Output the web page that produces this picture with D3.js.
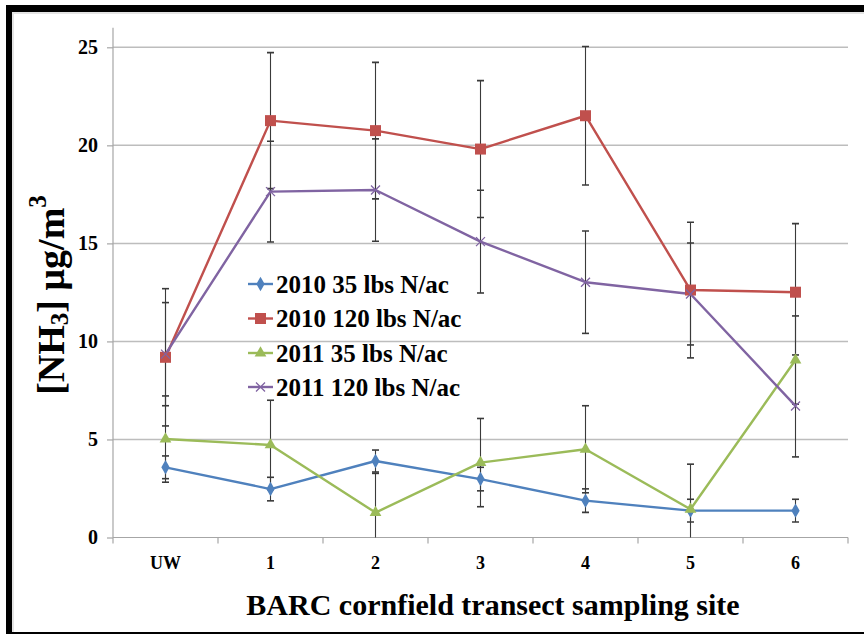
<!DOCTYPE html>
<html>
<head>
<meta charset="utf-8">
<script src="https://cdn.jsdelivr.net/npm/d3@7/dist/d3.min.js"></script>
<style>
  html, body { margin: 0; padding: 0; background: #fff; }
  svg { display: block; }
  text { font-family: "Liberation Serif", "Times New Roman", serif; font-weight: bold; fill: #000; }
</style>
</head>
<body>
<svg id="chart" width="864" height="635"></svg>
<script>
// Sampling sites along the BARC cornfield transect
const sites = ["UW", "1", "2", "3", "4", "5", "6"];

// Mean NH3 concentration (µg/m3) and error-bar half widths per treatment
const nh3_2010_35 = [3.58, 2.47, 3.90, 2.98, 1.88, 1.37, 1.37];
const err_2010_35 = [0.58, 0.60, 0.56, 0.60, 0.60, 0.58, 0.58];

const nh3_2010_120 = [9.19, 21.26, 20.75, 19.81, 21.51, 12.62, 12.51];
const err_2010_120 = [3.50, 3.47, 3.48, 3.49, 3.53, 3.46, 3.50];

const nh3_2011_35 = [5.02, 4.72, 1.27, 3.82, 4.50, 1.44, 9.05];
const err_2011_35 = [2.20, 2.28, 2.00, 2.25, 2.22, 2.30, 2.25];

const nh3_2011_120 = [9.35, 17.64, 17.72, 15.09, 13.02, 12.42, 6.71];
const err_2011_120 = [2.63, 2.57, 2.61, 2.62, 2.61, 2.60, 2.60];

const yTicks = [0, 5, 10, 15, 20, 25];

const seriesNames = ["2010 35 lbs N/ac", "2010 120 lbs N/ac", "2011 35 lbs N/ac", "2011 120 lbs N/ac"];
const seriesColors = ["#4F81BD", "#C0504D", "#9BBB59", "#8064A2"];
const seriesMarkers = ["diamond", "square", "triangle", "cross"];

const series = [
  { name: seriesNames[0], values: nh3_2010_35,  errors: err_2010_35,  color: seriesColors[0], marker: seriesMarkers[0] },
  { name: seriesNames[1], values: nh3_2010_120, errors: err_2010_120, color: seriesColors[1], marker: seriesMarkers[1] },
  { name: seriesNames[2], values: nh3_2011_35,  errors: err_2011_35,  color: seriesColors[2], marker: seriesMarkers[2] },
  { name: seriesNames[3], values: nh3_2011_120, errors: err_2011_120, color: seriesColors[3], marker: seriesMarkers[3] }
];

const svg = d3.select("#chart");

// Frame around the figure
svg.append("rect").attr("x", 0).attr("y", 0).attr("width", 864).attr("height", 635).attr("fill", "#fff");
svg.append("rect").attr("x", 12).attr("y", 12).attr("width", 852).attr("height", 2).attr("fill", "#e4e4e4");
svg.append("rect").attr("x", 12).attr("y", 12).attr("width", 2).attr("height", 620).attr("fill", "#e4e4e4");
svg.append("rect").attr("x", 6).attr("y", 5).attr("width", 858).attr("height", 7).attr("fill", "#000");
svg.append("rect").attr("x", 6).attr("y", 5).attr("width", 6).attr("height", 629).attr("fill", "#000");
svg.append("rect").attr("x", 6).attr("y", 632).attr("width", 858).attr("height", 2).attr("fill", "#000");

// Plot geometry
const plotLeft = 113, plotRight = 848, plotBottom = 537.5;
const y = d3.scaleLinear().domain([0, 25]).range([plotBottom, 47.3]);
const x = d3.scaleBand().domain(sites).range([plotLeft, plotRight]).padding(0);
const cx = d => x(d) + x.bandwidth() / 2;

// Horizontal gridlines
svg.append("g")
  .selectAll("line")
  .data(yTicks.filter(t => t > 0))
  .join("line")
  .attr("x1", plotLeft).attr("x2", plotRight)
  .attr("y1", d => y(d)).attr("y2", d => y(d))
  .attr("stroke", "#bdbdbd").attr("stroke-width", 1.5);

// Y axis
const yAxis = svg.append("g")
  .attr("transform", `translate(${plotLeft},0)`)
  .call(d3.axisLeft(y).tickValues(yTicks).tickSize(6).tickPadding(9).tickFormat(d3.format("d")));
yAxis.select(".domain").remove();
yAxis.selectAll(".tick line").attr("stroke", "#a6a6a6").attr("stroke-width", 1.2);
yAxis.selectAll(".tick text")
  .attr("font-size", 20)
  .style("font-family", '"Liberation Serif", "Times New Roman", serif')
  .style("font-weight", "bold")
  .attr("fill", "#000");
svg.append("line")
  .attr("x1", plotLeft).attr("x2", plotLeft)
  .attr("y1", plotBottom).attr("y2", y(26))
  .attr("stroke", "#a6a6a6").attr("stroke-width", 1.2);

// X axis: ticks between categories
const xAxisG = svg.append("g").attr("transform", `translate(0,${plotBottom})`);
const boundaries = sites.map(s => x(s)).concat([x(sites[sites.length - 1]) + x.bandwidth()]);
xAxisG.append("line")
  .attr("x1", plotLeft).attr("x2", plotRight)
  .attr("y1", 0).attr("y2", 0)
  .attr("stroke", "#a6a6a6").attr("stroke-width", 1.2);
xAxisG.selectAll("line.tk")
  .data(boundaries)
  .join("line").attr("class", "tk")
  .attr("x1", d => d).attr("x2", d => d)
  .attr("y1", 0).attr("y2", 6)
  .attr("stroke", "#a6a6a6").attr("stroke-width", 1.2);
xAxisG.selectAll("text")
  .data(sites)
  .join("text")
  .attr("x", d => cx(d))
  .attr("y", 25)
  .attr("text-anchor", "middle")
  .attr("dominant-baseline", "central")
  .attr("font-size", 18)
  .text(d => d);

// Axis titles
svg.append("text")
  .attr("x", 493).attr("y", 604)
  .attr("text-anchor", "middle")
  .attr("dominant-baseline", "central")
  .attr("font-size", 30)
  .text("BARC cornfield transect sampling site");

const yTitle = svg.append("text")
  .attr("transform", `translate(51,295) rotate(-90)`)
  .attr("text-anchor", "middle")
  .attr("dominant-baseline", "central")
  .attr("font-size", 38);
yTitle.append("tspan").text("[NH");
yTitle.append("tspan").attr("font-size", 25).attr("dy", 8).text("3");
yTitle.append("tspan").attr("dy", -8).text("] μg/m");
yTitle.append("tspan").attr("font-size", 25).attr("dy", -14).text("3");

// Clip for marks inside the plot area
svg.append("clipPath").attr("id", "plotClip")
  .append("rect").attr("x", plotLeft).attr("y", 20).attr("width", plotRight - plotLeft).attr("height", plotBottom - 20);

const marks = svg.append("g").attr("clip-path", "url(#plotClip)");

// Error bars
series.forEach(s => {
  const g = marks.append("g");
  sites.forEach((site, i) => {
    const v = s.values[i], e = s.errors[i];
    const xx = cx(site);
    g.append("line")
      .attr("x1", xx).attr("x2", xx)
      .attr("y1", y(v + e)).attr("y2", y(v - e))
      .attr("stroke", "#3a3a3a").attr("stroke-width", 1.1);
    [v + e, v - e].forEach(t => {
      g.append("line")
        .attr("x1", xx - 3.5).attr("x2", xx + 3.5)
        .attr("y1", y(t)).attr("y2", y(t))
        .attr("stroke", "#3a3a3a").attr("stroke-width", 1.6);
    });
  });
});

// Lines
const lineGen = d3.line().x((d, i) => cx(sites[i])).y(d => y(d));
series.forEach(s => {
  marks.append("path")
    .datum(s.values)
    .attr("d", lineGen)
    .attr("fill", "none")
    .attr("stroke", s.color)
    .attr("stroke-width", 2.4)
    .attr("stroke-linejoin", "round");
});

// Marker drawing
function drawMarker(g, type, color, px, py) {
  if (type === "diamond") {
    g.append("path")
      .attr("d", d3.symbol(d3.symbolDiamond, 60)())
      .attr("transform", `translate(${px},${py})`)
      .attr("fill", color);
  } else if (type === "square") {
    g.append("rect")
      .attr("x", px - 5.5).attr("y", py - 5.5).attr("width", 11).attr("height", 11)
      .attr("fill", color);
  } else if (type === "triangle") {
    g.append("path")
      .attr("d", d3.symbol(d3.symbolTriangle, 60)())
      .attr("transform", `translate(${px},${py})`)
      .attr("fill", color);
  } else {
    const r = 4.5;
    g.append("path")
      .attr("d", `M${px - r},${py - r}L${px + r},${py + r}M${px - r},${py + r}L${px + r},${py - r}`)
      .attr("stroke", color).attr("stroke-width", 1.3).attr("fill", "none");
  }
}

series.forEach(s => {
  const g = marks.append("g");
  s.values.forEach((v, i) => drawMarker(g, s.marker, s.color, cx(sites[i]), y(v)));
});

// Legend
const legendRows = [284, 318.5, 353, 387];
const legend = svg.append("g");
series.forEach((s, i) => {
  const ly = legendRows[i];
  legend.append("line")
    .attr("x1", 248).attr("x2", 273).attr("y1", ly).attr("y2", ly)
    .attr("stroke", s.color).attr("stroke-width", 2.4);
  drawMarker(legend, s.marker, s.color, 260.5, ly);
  legend.append("text")
    .attr("x", 276).attr("y", ly)
    .attr("dominant-baseline", "central")
    .attr("font-size", 25)
    .text(s.name);
});
</script>
</body>
</html>
